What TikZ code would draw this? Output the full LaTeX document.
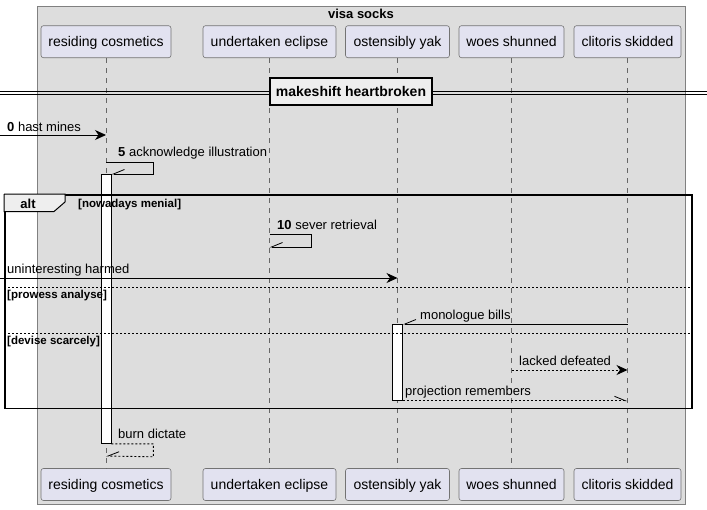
\documentclass[tikz,border=0pt]{standalone}
\usepackage{fontspec}
\setmainfont{Liberation Sans}
\usetikzlibrary{arrows.meta}
\definecolor{groupfill}{HTML}{DDDDDD}
\definecolor{partfill}{HTML}{E2E2F0}
\definecolor{tabfill}{HTML}{EEEEEE}
\definecolor{lifegray}{HTML}{666666}
\tikzset{
  participant/.style={draw=black!55, fill=partfill, rounded corners=2.5pt,
    minimum height=32pt, inner sep=0pt, line width=0.6pt, text height=10.5pt, text depth=0pt,
    font=\fontsize{14}{16}\selectfont},
  lifeline/.style={draw=lifegray, dash pattern=on 5pt off 5pt, line width=0.7pt},
  activation/.style={draw=black, fill=white, line width=0.8pt, inner sep=0pt, minimum width=10pt},
  msg/.style={draw=black, line width=0.9pt},
  reply/.style={msg, dash pattern=on 2pt off 2pt},
  full tip/.style={-{Stealth[length=11pt,width=10pt,inset=3.5pt]}},
  half tip/.style={-{Straight Barb[harpoon,length=11pt,width=9pt,line width=0.8pt]}},
  half tip swap/.style={-{Straight Barb[harpoon,swap,length=11pt,width=9pt,line width=0.8pt]}},
  msglabel/.style={anchor=base west, inner sep=0pt, font=\fontsize{13}{15}\selectfont},
  guard/.style={anchor=base west, inner sep=0pt, font=\fontsize{11.5}{13}\selectfont\bfseries},
  guardline/.style={draw=black, dash pattern=on 2pt off 2pt, line width=0.7pt},
  divline/.style={draw=black, line width=1pt}
}
\begin{document}
\begin{tikzpicture}[x=1pt,y=-1pt]
\useasboundingbox (0,0) rectangle (707,509);
% group box
\node[draw=black!50, fill=groupfill, line width=0.6pt, minimum width=648pt, minimum height=498pt,
  inner sep=0pt, anchor=north west] (visabox) at (37,6) {};
\node[font=\fontsize{13}{15}\selectfont\bfseries, anchor=base, inner sep=0pt] (visalabel) at (361,18.5) {visa socks};

% participants, top and bottom
\foreach \n/\x/\w/\t in {rc/106/130/residing cosmetics, ue/269.5/133/undertaken eclipse,
    oy/397.5/104/ostensibly yak, ws/511.5/105/woes shunned, cs/627.5/107/clitoris skidded} {
  \node[participant, minimum width=\w pt] (top-\n) at (\x,41.7) {\t};
  \node[participant, minimum width=\w pt] (bot-\n) at (\x,484.5) {\t};
  \draw[lifeline] (top-\n) -- (bot-\n);
}

% activations
\node[activation, minimum height=269pt, anchor=north] (act-rc) at (106,174) {};
\node[activation, minimum height=76pt, anchor=north] (act-oy) at (397.5,324) {};

% divider
\coordinate (divL) at (0,92.5);
\coordinate (divR) at (707,92.5);
\draw[divline] ([yshift=1.5pt]divL) -- ([yshift=1.5pt]divR);
\draw[divline] ([yshift=-1.5pt]divL) -- ([yshift=-1.5pt]divR);
\node[draw=black, line width=1.6pt, fill=tabfill, minimum width=162pt, minimum height=27pt,
  inner sep=0pt, font=\fontsize{14}{16}\selectfont\bfseries] (divider) at (351,91.5) {makeshift heartbroken};

% messages
\coordinate (m0s) at (0,135);
\draw[msg, full tip] (m0s) -- (m0s -| top-rc);
\node[msglabel] (m0l) at (7,131.5) {\textbf{0} hast mines};

\draw[msg, half tip swap] (top-rc |- 0,162) -- ++(47,0) -- ++(0,12) -- (act-rc.north east);
\node[msglabel] (m5l) at (118,156.5) {\textbf{5} acknowledge illustration};

% alt frame
\node[draw=black, line width=1.5pt, minimum width=687pt, minimum height=213.5pt,
  inner sep=0pt, anchor=north west] (altframe) at (4,194) {};
\draw[fill=tabfill, line width=1pt] (altframe.north west) -- ++(61,0) -- ++(0,8) -- ++(-11,9.5) -| (altframe.north west);
\node[font=\fontsize{13}{15}\selectfont\bfseries, anchor=base, inner sep=0pt] (altlabel) at (28,208) {alt};
\node[guard] (g1) at (78,207) {[nowadays menial]};

\draw[msg, half tip swap] (top-ue |- 0,234) -- ++(42,0) -- ++(0,13) -- (top-ue |- 0,247);
\node[msglabel] (m10l) at (277,229.5) {\textbf{10} sever retrieval};

\coordinate (m2s) at (0,278);
\draw[msg, full tip] (m2s) -- (m2s -| top-oy);
\node[msglabel] (m2l) at (7,273.5) {uninteresting harmed};

\draw[guardline] (altframe.west |- 0,287) -- (altframe.east |- 0,287);
\node[guard] (g2) at (7,298) {[prowess analyse]};

\draw[msg, half tip swap] (top-cs |- 0,324) -- (act-oy.north east);
\node[msglabel] (m3l) at (420,319.5) {monologue bills};

\draw[guardline] (altframe.west |- 0,333) -- (altframe.east |- 0,333);
\node[guard] (g3) at (7,344) {[devise scarcely]};

\draw[reply, full tip] (top-ws |- 0,370) -- (top-cs |- 0,370);
\node[msglabel] (m4l) at (519,365.5) {lacked defeated};

\draw[reply, half tip] (act-oy.south east) -- (act-oy.south east -| top-cs);
\node[msglabel] (m6l) at (405,395.5) {projection remembers};

\draw[reply, half tip swap] (act-rc.south east) -- ++(42,0) -- ++(0,13) -- (top-rc |- 0,456);
\node[msglabel] (m7l) at (118,438) {burn dictate};
\end{tikzpicture}
\end{document}
